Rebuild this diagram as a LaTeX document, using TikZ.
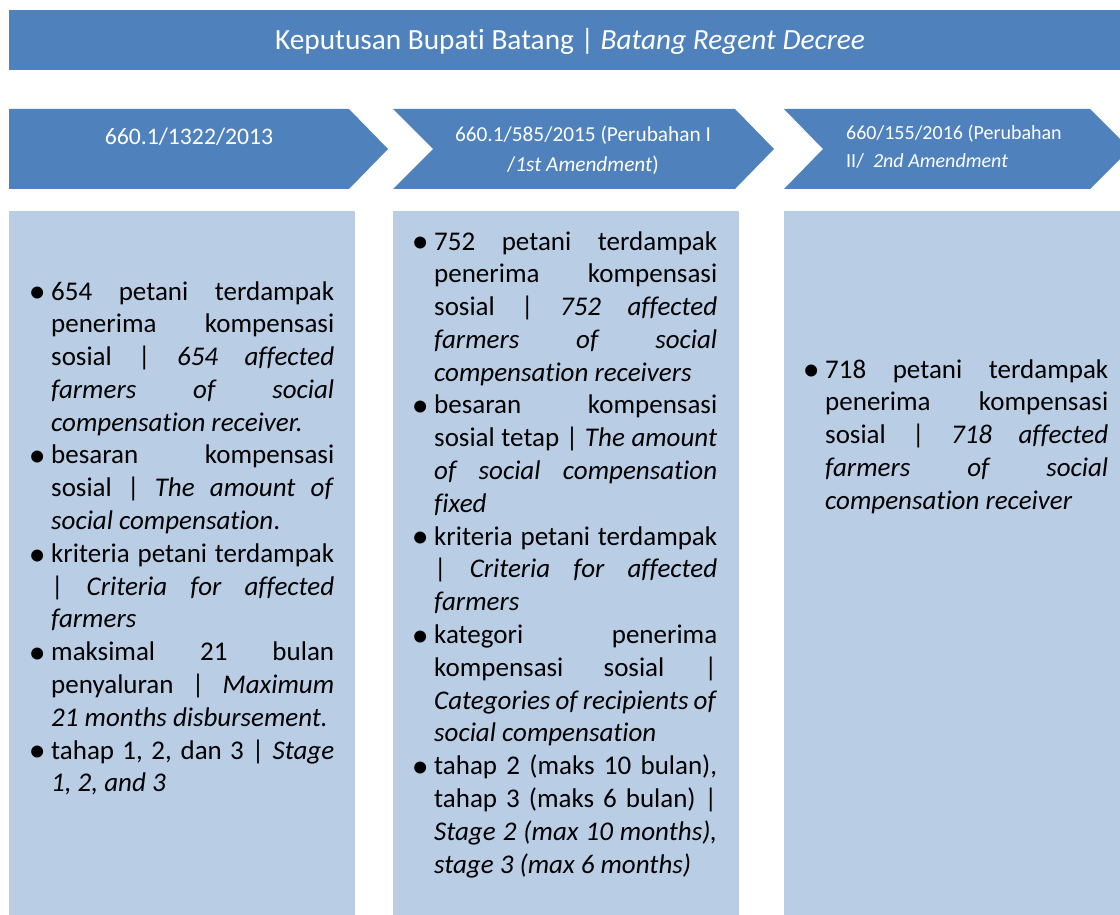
\documentclass[tikz,border=0pt]{standalone}
\usepackage{fontspec}
\setmainfont{Carlito}[Ligatures={NoCommon}]
\definecolor{hdrblue}{HTML}{4F81BD}
\definecolor{boxblue}{HTML}{B9CDE5}
\newcommand\jl[1]{\hbox to\hsize{#1}}
\newcommand\nl[1]{\hbox{#1}}
\newcommand\bul{\llap{\makebox[28pt][c]{\raisebox{-2.6pt}{\scalebox{1.25}{\textbullet}}}}}
\newcommand\bodyfont{\fontsize{27pt}{32.8pt}\selectfont}
\tikzset{
  darkshape/.style={fill=hdrblue, draw=none},
  lightbox/.style={fill=boxblue, draw=none},
  whitetext/.style={text=white, inner sep=0pt},
  bodytext/.style={anchor=base west, inner sep=0pt, text=black},
}
\begin{document}
\begin{tikzpicture}[x=1pt,y=-1pt]
\useasboundingbox (0,0) rectangle (1120,915);
\clip (0,0) rectangle (1120,915);
% banner
\fill[darkshape] (9,10) rectangle (1125,70);
\node[whitetext, font=\fontsize{29.3pt}{32pt}\selectfont] (title) at (570,41) {Keputusan Bupati Batang | \textit{Batang Regent Decree}};
% chevrons
\fill[darkshape] (9,109) -- (349,109) -- (388,149) -- (349,189) -- (9,189) -- cycle;
\fill[darkshape] (393,109) -- (735,109) -- (774,149) -- (735,189) -- (393,189) -- (433,149) -- cycle;
\fill[darkshape] (784,109) -- (1090,109) -- (1130,149) -- (1090,189) -- (784,189) -- (823,149) -- cycle;
\node[whitetext, font=\fontsize{23.7pt}{28pt}\selectfont] (c1) at (189,137) {660.1/1322/2013};
\node[whitetext, align=center, font=\fontsize{21.3pt}{30pt}\selectfont] (c2) at (583,150) {660.1/585/2015 (Perubahan I\\/\textit{1st Amendment})};
\node[whitetext, align=left, anchor=west, font=\fontsize{20pt}{28pt}\selectfont] (c3) at (846,147) {660/155/2016 (Perubahan\\II/\ \ \textit{2nd Amendment}};
% content boxes
\fill[lightbox] (9,211) rectangle (355,920);
\fill[lightbox] (393,211) rectangle (739,920);
\fill[lightbox] (784,211) rectangle (1125,920);
\node[bodytext] (t1) at (51,300) {\parbox[t]{283pt}{\bodyfont
\jl{\bul 654 petani terdampak}
\jl{penerima kompensasi}
\jl{sosial | \textit{654 affected}}
\jl{\textit{farmers of social}}
\nl{\textit{compensation receiver.}}
\jl{\bul besaran kompensasi}
\jl{sosial | \textit{The amount of}}
\nl{\textit{social compensation}.}
\jl{\bul kriteria petani terdampak}
\jl{| \textit{Criteria for affected}}
\nl{\textit{farmers}}
\jl{\bul maksimal 21 bulan}
\jl{penyaluran | \textit{Maximum}}
\nl{\textit{21 months disbursement.}}
\jl{\bul tahap 1, 2, dan 3 | \textit{Stage}}
\nl{\textit{1, 2, and 3}}}};
\node[bodytext] (t2) at (434,250) {\parbox[t]{283pt}{\bodyfont
\jl{\bul 752 petani terdampak}
\jl{penerima kompensasi}
\jl{sosial | \textit{752 affected}}
\jl{\textit{farmers of social}}
\nl{\textit{compensation receivers}}
\jl{\bul besaran kompensasi}
\jl{sosial tetap | \textit{The amount}}
\jl{\textit{of social compensation}}
\nl{\textit{fixed}}
\jl{\bul kriteria petani terdampak}
\jl{| \textit{Criteria for affected}}
\nl{\textit{farmers}}
\jl{\bul kategori penerima}
\jl{kompensasi sosial |}
\jl{\textit{Categories of recipients of}}
\nl{\textit{social compensation}}
\jl{\bul tahap 2 (maks 10 bulan),}
\jl{tahap 3 (maks 6 bulan) |}
\jl{\textit{Stage 2 (max 10 months),}}
\nl{\textit{stage 3 (max 6 months)}}}};
\node[bodytext] (t3) at (825,378) {\parbox[t]{283pt}{\bodyfont
\jl{\bul 718 petani terdampak}
\jl{penerima kompensasi}
\jl{sosial | \textit{718 affected}}
\jl{\textit{farmers of social}}
\nl{\textit{compensation receiver}}}};
\end{tikzpicture}
\end{document}
